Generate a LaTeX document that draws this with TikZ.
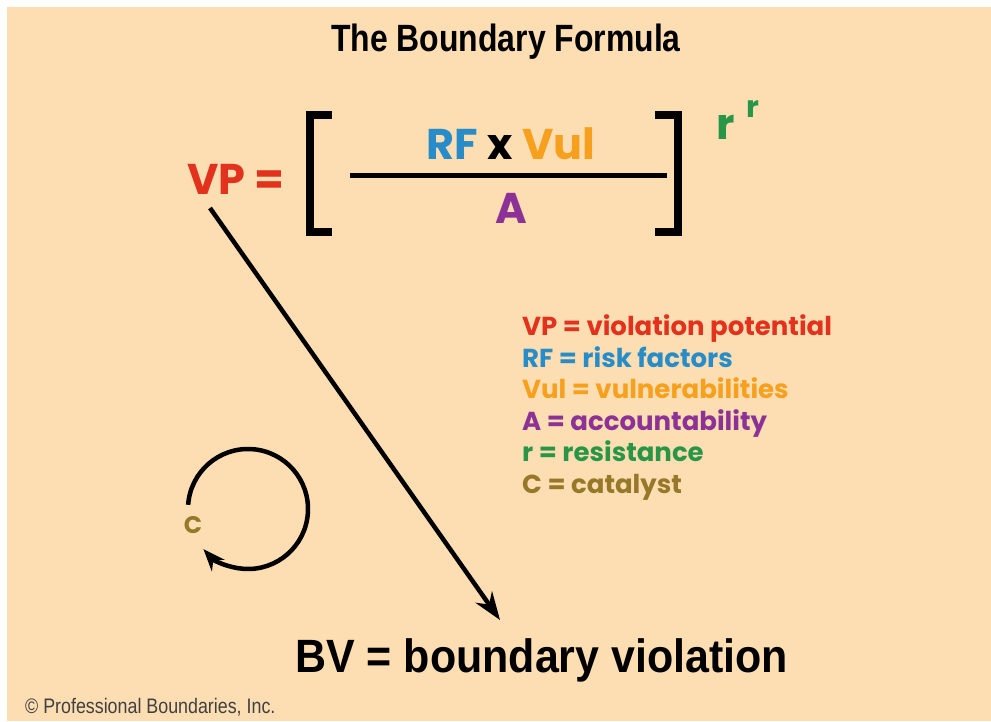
\documentclass[tikz,border=0pt]{standalone}
\usepackage{fontspec}
\setmainfont{Liberation Sans}
\newfontfamily\geo{Poppins}
\usetikzlibrary{arrows.meta}
\definecolor{peach}{RGB}{253,221,178}
\definecolor{cvp}{RGB}{226,50,30}
\definecolor{crf}{RGB}{40,140,200}
\definecolor{cvul}{RGB}{246,160,30}
\definecolor{ca}{RGB}{140,50,150}
\definecolor{cr}{RGB}{40,150,70}
\definecolor{cc}{RGB}{150,120,40}
\tikzset{
  formula/.style={inner sep=0pt,font=\geo\bfseries\fontsize{43}{43}\selectfont},
  legend/.style={inner sep=0pt,anchor=base west,font=\geo\bfseries\fontsize{26}{26}\selectfont},
  bracket/.style={line width=8.5pt,line cap=butt,line join=miter},
  thickarrow/.style={line width=4.5pt,-{Stealth[length=28pt,width=20pt]}},
}
\begin{document}
\begin{tikzpicture}[x=1pt,y=1pt]
\useasboundingbox (0,0) rectangle (991,721);
\fill[white] (0,0) rectangle (991,721);
\fill[peach] (7,0) rectangle (991,714);
% title
\node[inner sep=0pt,anchor=base,xscale=0.84,font=\bfseries\fontsize{38}{38}\selectfont] (title) at (506,669) {The Boundary Formula};
% formula
\node[formula,anchor=base west,text=cvp] (vp) at (187,526) {VP =};
\node[formula,anchor=base] (num) at (511,561) {\textcolor{crf}{RF} x \textcolor{cvul}{Vul}};
\node[formula,anchor=base,text=ca] (den) at (511,497) {A};
\coordinate (fl) at (350,545);
\coordinate (fr) at (667,545);
\draw[line width=5pt] (fl) -- (fr);
\draw[bracket] (332,606) -- (310,606) -- (310,489) -- (332,489);
\draw[bracket] (655,606) -- (678,606) -- (678,489) -- (655,489);
\node[formula,anchor=base west,text=cr] (r1) at (716,581) {r};
\node[inner sep=0pt,anchor=base west,text=cr,font=\geo\bfseries\fontsize{30}{30}\selectfont] (r2) at (746,603) {r};
% legend
\node[legend,text=cvp] (l1) at (522,385) {VP = violation potential};
\node[legend,text=crf] (l2) at (522,353.5) {RF = risk factors};
\node[legend,text=cvul] (l3) at (522,322) {Vul = vulnerabilities};
\node[legend,text=ca] (l4) at (522,290.5) {A = accountability};
\node[legend,text=cr] (l5) at (522,259) {r = resistance};
\node[legend,text=cc] (l6) at (522,227.5) {C = catalyst};
% bottom
\node[inner sep=0pt,anchor=base west,xscale=0.92,font=\bfseries\fontsize{46.7}{46.7}\selectfont] (bv) at (295,49) {BV = boundary violation};
\node[inner sep=0pt,anchor=base west,xscale=0.85,font=\fontsize{21}{21}\selectfont,text=black!75] (copy) at (25,8) {\textcopyright{} Professional Boundaries, Inc.};
% main arrow
\coordinate (a1) at (210,513);
\coordinate (a2) at (500,101);
\draw[thickarrow] (a1) -- (a2);
% catalyst loop
\coordinate (cc0) at (248,212);
\node[inner sep=0pt,text=cc,font=\geo\bfseries\fontsize{24}{24}\selectfont] (c) at (193,196) {C};
\draw[line width=4.5pt,-{Stealth[length=22pt,width=17pt]}] (cc0) ++(176:60) arc[start angle=176,end angle=-138,radius=60];
\end{tikzpicture}
\end{document}
